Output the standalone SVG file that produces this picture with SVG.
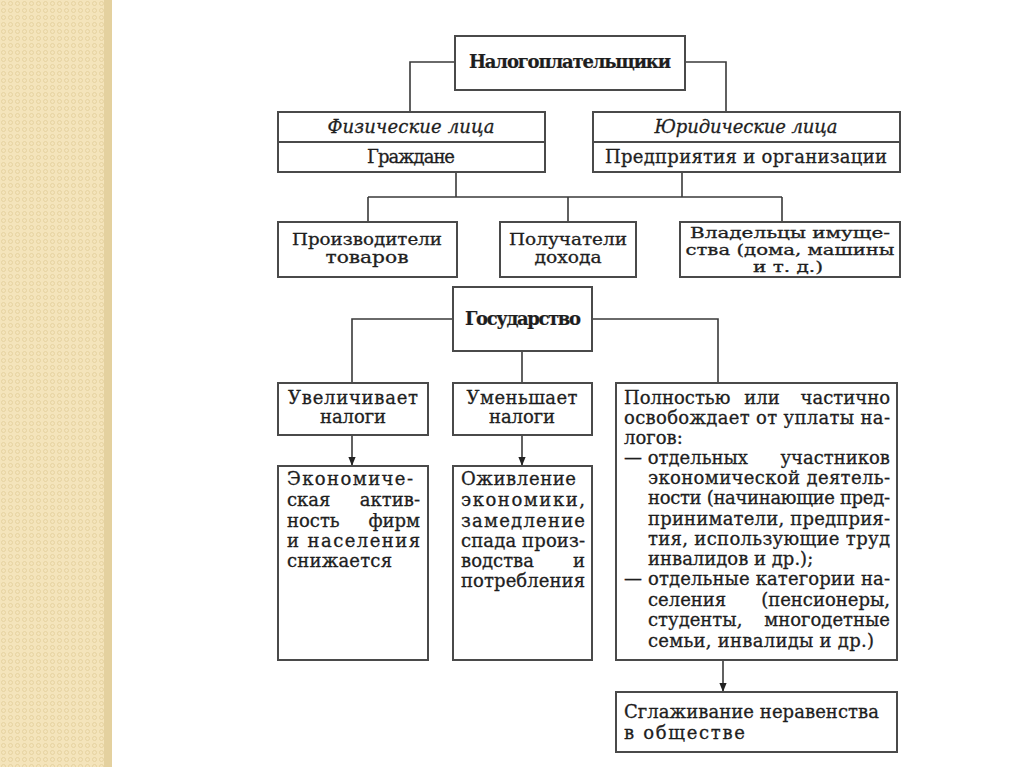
<svg xmlns="http://www.w3.org/2000/svg" width="1024" height="767" viewBox="0 0 1024 767">
<defs>
<pattern id="dots" x="0" y="0" width="7" height="7" patternUnits="userSpaceOnUse">
<rect width="7" height="7" fill="#f4e4bb"/>
<circle cx="3.5" cy="3.5" r="2" fill="none" stroke="#e6d2a0" stroke-width="1"/>
</pattern>
<marker id="arr" viewBox="0 0 10 10" refX="10" refY="5" markerWidth="9" markerHeight="9" markerUnits="userSpaceOnUse" orient="auto">
<path d="M0,1 L10,5 L0,9 z" fill="#222"/>
</marker>
<style>
.box{fill:#fff;stroke:#4a4a4a;stroke-width:2}
.ln{fill:none;stroke:#3a3a3a;stroke-width:1.6}
.dv{stroke:#4a4a4a;stroke-width:2}
text{font-family:"DejaVu Serif","Liberation Serif",serif;font-size:18px;fill:#1e1e1e;stroke:#1e1e1e;stroke-width:0.3}
.c{text-anchor:middle}
.b{font-weight:bold;font-size:18px;stroke-width:0.2}
.i{font-style:italic}
.e{text-anchor:end}
.m{text-anchor:middle}
.s{font-size:16px}
.t{font-size:15px}
</style>
</defs>
<rect width="1024" height="767" fill="#ffffff"/>
<rect x="0" y="0" width="107" height="767" fill="url(#dots)"/>
<rect x="104" y="0" width="8" height="767" fill="#e4d19f"/>

<g id="connectors">
<path class="ln" d="M455,62 H410 V112"/>
<path class="ln" d="M685,62 H726 V112"/>
<path class="ln" d="M456,172 V197 M682,172 V197 M368,197 H782 M368,197 V222 M568,197 V222 M782,197 V222"/>
<path class="ln" d="M453,319 H352 V383 M592,319 H718 V383 M522,351 V383"/>
<path class="ln" d="M352,435 V466" marker-end="url(#arr)"/>
<path class="ln" d="M522,435 V466" marker-end="url(#arr)"/>
<path class="ln" d="M723,660 V692" marker-end="url(#arr)"/>
</g>

<g id="n-taxpayers">
<rect class="box" x="455" y="36" width="230" height="54"/>
<text class="c b" x="570" y="68" textLength="202" lengthAdjust="spacing">Налогоплательщики</text>
</g>

<g id="n-physical">
<rect class="box" x="278" y="112" width="267" height="60"/>
<line class="dv" x1="278" y1="142" x2="545" y2="142"/>
<text class="c i" x="411" y="133" textLength="167" lengthAdjust="spacing">Физические лица</text>
<text class="c" x="411" y="163" textLength="88" lengthAdjust="spacing">Граждане</text>
</g>

<g id="n-legal">
<rect class="box" x="593" y="112" width="307" height="60"/>
<line class="dv" x1="593" y1="142" x2="900" y2="142"/>
<text class="c i" x="746" y="133" textLength="183" lengthAdjust="spacing">Юридические лица</text>
<text class="c" x="746" y="163" textLength="282" lengthAdjust="spacing">Предприятия и организации</text>
</g>

<g id="n-producers">
<rect class="box" x="278" y="222" width="179" height="55"/>
<text class="c s" x="367" y="245" textLength="150" lengthAdjust="spacingAndGlyphs">Производители</text>
<text class="c s" x="367" y="263" textLength="83" lengthAdjust="spacingAndGlyphs">товаров</text>
</g>

<g id="n-income">
<rect class="box" x="500" y="222" width="136" height="55"/>
<text class="c s" x="568" y="245" textLength="118" lengthAdjust="spacingAndGlyphs">Получатели</text>
<text class="c s" x="568" y="263" textLength="67" lengthAdjust="spacingAndGlyphs">дохода</text>
</g>

<g id="n-owners">
<rect class="box" x="680" y="222" width="220" height="55"/>
<text class="c t" x="790" y="238" textLength="200" lengthAdjust="spacingAndGlyphs">Владельцы имуще-</text>
<text class="c t" x="790" y="255" textLength="209" lengthAdjust="spacingAndGlyphs">ства (дома, машины</text>
<text class="c t" x="788" y="272" textLength="70" lengthAdjust="spacingAndGlyphs">и т. д.)</text>
</g>

<g id="n-state">
<rect class="box" x="453" y="287" width="139" height="64"/>
<text class="c b" x="523" y="325" textLength="116" lengthAdjust="spacing">Государство</text>
</g>

<g id="n-increase">
<rect class="box" x="278" y="383" width="150" height="52"/>
<text class="c" x="353" y="404" textLength="130" lengthAdjust="spacing">Увеличивает</text>
<text class="c" x="353" y="423" textLength="66" lengthAdjust="spacing">налоги</text>
</g>

<g id="n-decrease">
<rect class="box" x="453" y="383" width="139" height="52"/>
<text class="c" x="522" y="404" textLength="111" lengthAdjust="spacing">Уменьшает</text>
<text class="c" x="522" y="423" textLength="66" lengthAdjust="spacing">налоги</text>
</g>

<g id="n-exempt">
<rect class="box" x="616" y="383" width="281" height="277"/>
<text y="404"><tspan x="624">Полностью</tspan><tspan class="m" x="762">или</tspan><tspan class="e" x="890">частично</tspan></text>
<text x="624" y="424" textLength="266" lengthAdjust="spacing">освобождает от уплаты на-</text>
<text x="624" y="444">логов:</text>
<text y="464"><tspan x="624">— отдельных</tspan><tspan class="e" x="890">участников</tspan></text>
<text x="648" y="484" textLength="242" lengthAdjust="spacing">экономической деятель-</text>
<text x="648" y="504" textLength="242" lengthAdjust="spacing">ности (начинающие пред-</text>
<text x="648" y="525" textLength="242" lengthAdjust="spacing">приниматели, предприя-</text>
<text x="648" y="545" textLength="242" lengthAdjust="spacing">тия, использующие труд</text>
<text x="648" y="565">инвалидов и др.);</text>
<text x="624" y="585" textLength="266" lengthAdjust="spacing">— отдельные категории на-</text>
<text y="606"><tspan x="648">селения</tspan><tspan class="e" x="890">(пенсионеры,</tspan></text>
<text y="626"><tspan x="648">студенты,</tspan><tspan class="e" x="890">многодетные</tspan></text>
<text x="648" y="647" textLength="226" lengthAdjust="spacing">семьи, инвалиды и др.)</text>
</g>

<g id="n-activity">
<rect class="box" x="278" y="466" width="150" height="194"/>
<text x="287" y="485" textLength="126" lengthAdjust="spacing">Экономиче-</text>
<text y="506"><tspan x="287">ская</tspan><tspan class="e" x="420">актив-</tspan></text>
<text y="527"><tspan x="287">ность</tspan><tspan class="e" x="420">фирм</tspan></text>
<text x="287" y="547" textLength="133" lengthAdjust="spacing">и населения</text>
<text x="287" y="567" textLength="105" lengthAdjust="spacing">снижается</text>
</g>

<g id="n-revival">
<rect class="box" x="453" y="466" width="139" height="194"/>
<text x="461" y="485" textLength="115" lengthAdjust="spacing">Оживление</text>
<text x="461" y="506" textLength="124" lengthAdjust="spacing">экономики,</text>
<text x="461" y="527" textLength="124" lengthAdjust="spacing">замедление</text>
<text x="461" y="547" textLength="124" lengthAdjust="spacing">спада произ-</text>
<text y="567"><tspan x="461">водства</tspan><tspan class="e" x="585">и</tspan></text>
<text x="461" y="587" textLength="124" lengthAdjust="spacing">потребления</text>
</g>

<g id="n-smoothing">
<rect class="box" x="616" y="692" width="281" height="60"/>
<text x="624" y="718" textLength="255" lengthAdjust="spacing">Сглаживание неравенства</text>
<text x="624" y="739" textLength="121" lengthAdjust="spacing">в обществе</text>
</g>
</svg>
